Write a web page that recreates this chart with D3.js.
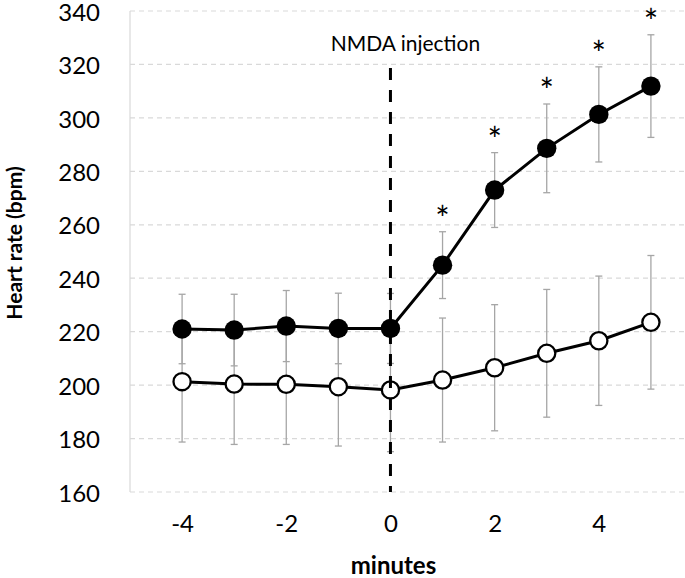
<!DOCTYPE html>
<html><head><meta charset="utf-8">
<script src="https://cdn.jsdelivr.net/npm/d3@7"></script>
<style>body{margin:0;background:#fff}svg{display:block}text{font-family:Lato,"Open Sans",sans-serif}</style>
</head><body><svg id="c" width="685" height="578"></svg>
<script>
const minutes = [-4,-3,-2,-1,0,1,2,3,4,5];
const nmdaMean = [221.0,220.6,222.1,221.2,221.2,244.9,273.0,288.6,301.3,311.9];
const nmdaErr  = [13.0,13.4,13.3,13.2,13.1,12.5,14.0,16.6,17.8,19.2];
const ctrlMean = [201.3,200.4,200.3,199.4,198.2,201.9,206.5,211.9,216.6,223.5];
const ctrlErr  = [22.6,22.6,22.5,22.2,23.1,23.2,23.6,23.9,24.2,25.0];
const significant = [false,false,false,false,false,true,true,true,true,true];
const yTicks = [160,180,200,220,240,260,280,300,320,340];
const xTicks = [-4,-2,0,2,4];
const yLabel = "Heart rate (bpm)";
const xLabel = "minutes";
const eventLabel = "NMDA injection";
const eventAt = 0;

const svg = d3.select("#c");
const x = d3.scaleLinear().domain([-5,6]).range([130,703]);
const y = d3.scaleLinear().domain([160,340]).range([492,11]);

// gridlines
svg.append("g").selectAll("line").data(yTicks).join("line")
  .attr("x1",x(-5)).attr("x2",685).attr("y1",d=>y(d)).attr("y2",d=>y(d))
  .attr("stroke","#d9d9d9").attr("stroke-width",1.2).attr("stroke-dasharray","5,4");
// left axis line
svg.append("line").attr("x1",x(-5)).attr("x2",x(-5)).attr("y1",y(340)).attr("y2",y(160))
  .attr("stroke","#d9d9d9").attr("stroke-width",1.2);

// y axis
const yAxis = d3.axisLeft(y).tickValues(yTicks).tickSize(0).tickPadding(0);
const gy = svg.append("g").attr("transform","translate(100,0)").call(yAxis);
gy.select(".domain").remove();
gy.selectAll("text").attr("font-size",24).attr("fill","#000").attr("dy","0.38em");

// x axis
const xAxis = d3.axisBottom(x).tickValues(xTicks).tickSize(0).tickPadding(0).tickFormat(d3.format("d"));
const gx = svg.append("g").attr("transform","translate(0,515)").call(xAxis);
gx.select(".domain").remove();
gx.selectAll("text").attr("font-size",24).attr("fill","#000").attr("dy","0.71em")
  .text(d=>String(d).replace("−","-"));

// axis titles
svg.append("text").attr("transform","translate(22,243) rotate(-90)").attr("text-anchor","middle")
  .attr("font-size",21).attr("font-weight","bold").text(yLabel);
svg.append("text").attr("x",x(0)+3).attr("y",574).attr("text-anchor","middle")
  .attr("font-size",24).attr("font-weight","bold").text(xLabel);

function errorBars(mean, err){
  const g = svg.append("g").attr("stroke","#a6a6a6").attr("stroke-width",1.3);
  minutes.forEach((m,i)=>{
    const cx = x(m);
    g.append("line").attr("x1",cx).attr("x2",cx).attr("y1",y(mean[i]+err[i])).attr("y2",y(mean[i]-err[i]));
    g.append("line").attr("x1",cx-3.5).attr("x2",cx+3.5).attr("y1",y(mean[i]+err[i])).attr("y2",y(mean[i]+err[i]));
    g.append("line").attr("x1",cx-3.5).attr("x2",cx+3.5).attr("y1",y(mean[i]-err[i])).attr("y2",y(mean[i]-err[i]));
  });
}
errorBars(ctrlMean, ctrlErr);
errorBars(nmdaMean, nmdaErr);

const line = d3.line().x((d,i)=>x(minutes[i])).y(d=>y(d));
svg.append("path").datum(ctrlMean).attr("d",line).attr("fill","none").attr("stroke","#000").attr("stroke-width",3);
svg.append("path").datum(nmdaMean).attr("d",line).attr("fill","none").attr("stroke","#000").attr("stroke-width",3);

svg.append("g").selectAll("circle").data(ctrlMean).join("circle")
  .attr("cx",(d,i)=>x(minutes[i])).attr("cy",d=>y(d)).attr("r",8.6)
  .attr("fill","#fff").attr("stroke","#000").attr("stroke-width",2.3);
svg.append("g").selectAll("circle").data(nmdaMean).join("circle")
  .attr("cx",(d,i)=>x(minutes[i])).attr("cy",d=>y(d)).attr("r",9.7)
  .attr("fill","#000");

// event line (drawn over markers)
svg.append("line").attr("x1",x(eventAt)).attr("x2",x(eventAt)).attr("y1",68).attr("y2",y(160))
  .attr("stroke","#000").attr("stroke-width",3).attr("stroke-dasharray","12,10");
svg.append("text").attr("x",x(eventAt)+15).attr("y",51).attr("text-anchor","middle")
  .attr("font-size",21).text(eventLabel);

// significance asterisks
svg.append("g").selectAll("text").data(minutes.filter((m,i)=>significant[i])).join("text")
  .attr("x",m=>x(m)).attr("y",m=>{const i=minutes.indexOf(m);return y(nmdaMean[i]+nmdaErr[i])-19+18;})
  .attr("text-anchor","middle").attr("font-size",34).text("*");
</script></body></html>
